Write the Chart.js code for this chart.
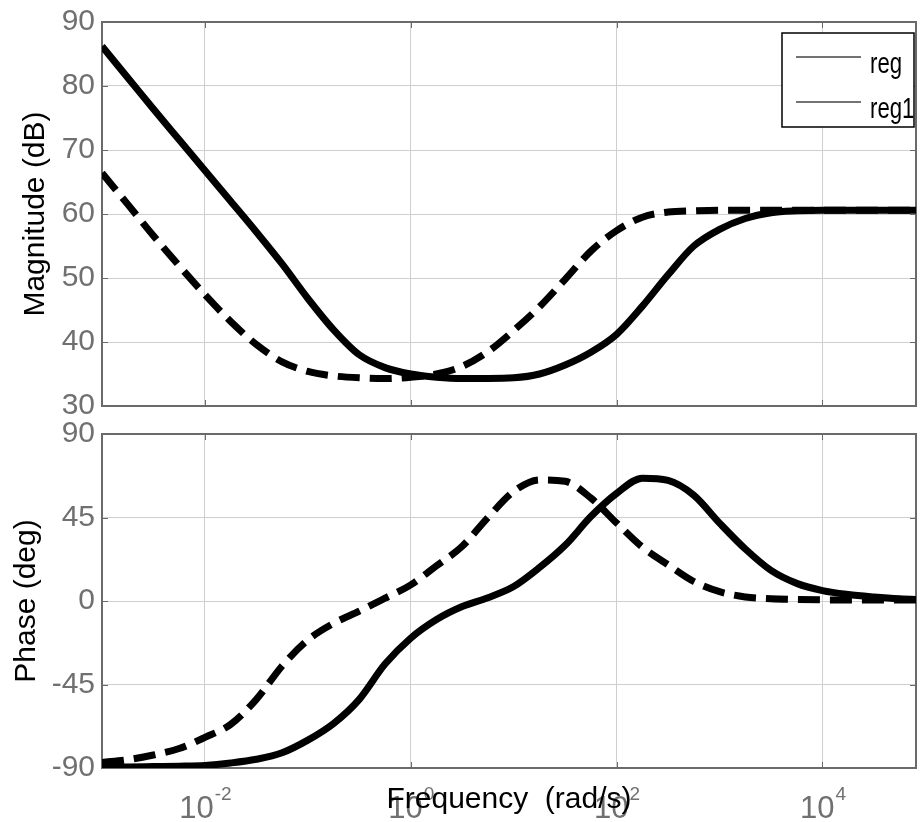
<!DOCTYPE html>
<html>
<head>
<meta charset="utf-8">
<script src="https://cdn.jsdelivr.net/npm/chart.js@4.4.0/dist/chart.umd.min.js"></script>
<style>
  html, body { margin: 0; padding: 0; background: #fff; }
  #wrap { position: relative; width: 922px; height: 822px; }
  canvas { position: absolute; left: 0; }
  #magChart { top: 0; }
  #phaseChart { top: 420px; }
</style>
</head>
<body>
<div id="wrap">
  <canvas id="magChart" width="922" height="420"></canvas>
  <canvas id="phaseChart" width="922" height="402"></canvas>
</div>
<script>
// Bode plot of two regulators: reg (solid) and reg1 (dashed)

// --- Data ---
const freqs = [
  1e-3, 1.78e-3, 3.16e-3, 5.62e-3,
  1e-2, 1.78e-2, 3.16e-2, 5.62e-2,
  0.1, 0.178, 0.316, 0.562,
  1, 1.78, 3.16, 5.62,
  10, 17.8, 31.6, 56.2,
  100, 178, 316, 562,
  1e3, 1.78e3, 3.16e3, 5.62e3,
  1e4, 1.78e4, 3.16e4, 5.62e4,
  1e5
];
const seriesNames = ['reg', 'reg1'];

const magReg = [
  86.2, 81.3, 76.4, 71.6,
  66.8, 62.0, 57.2, 52.2,
  46.8, 41.9, 38.0, 36.0,
  35.0, 34.5, 34.3, 34.3,
  34.4, 35.0, 36.4, 38.4,
  41.2, 45.6, 50.5, 55.0,
  57.6, 59.3, 60.2, 60.5,
  60.6, 60.6, 60.6, 60.6,
  60.6
];
const magReg1 = [
  66.4, 61.5, 56.6, 51.9,
  47.4, 43.2, 39.6, 36.9,
  35.4, 34.7, 34.4, 34.3,
  34.5, 35.0, 36.2, 38.5,
  41.8, 45.5, 49.8, 54.2,
  57.4, 59.5, 60.3, 60.5,
  60.6, 60.6, 60.6, 60.6,
  60.6, 60.6, 60.6, 60.6,
  60.6
];
const phaseReg = [
  -89.5, -89.4, -89.2, -89.0,
  -88.6, -87.3, -85.3, -81.8,
  -75.0, -66.0, -53.0, -34.0,
  -20.0, -10.0, -3.0, 1.8,
  7.8, 18.0, 30.0, 45.5,
  58.0, 66.2, 65.0, 57.0,
  42.0, 28.0, 16.5, 9.5,
  5.6, 3.5, 2.2, 1.2,
  0.6
];
const phaseReg1 = [
  -87.0, -85.5, -83.0, -79.5,
  -73.5, -66.5, -53.0, -35.0,
  -21.0, -12.0, -5.5, 1.5,
  8.7, 19.0, 29.5, 45.0,
  59.0, 65.3, 64.5, 55.5,
  42.0, 29.0, 19.5, 10.5,
  5.0, 2.2, 1.2, 0.8,
  0.6, 0.5, 0.5, 0.5,
  0.5
];

const freqTicks = [1e-2, 1, 1e2, 1e4];
const freqTickExps = ['-2', '0', '2', '4'];
const magRange = [30, 90];
const phaseRange = [-90, 90];

const TICK_GRAY = '#707070';
const FONT = '"Liberation Sans", Arial, sans-serif';

// frame box + small inward tick marks (matlab style)
const framePlugin = {
  id: 'frame',
  beforeDatasetsDraw(chart) {
    const { ctx, chartArea: a, scales } = chart;
    ctx.save();
    ctx.strokeStyle = '#6a6a6a';
    ctx.lineWidth = 1;
    ctx.beginPath();
    scales.x.ticks.forEach(t => {
      const px = Math.round(scales.x.getPixelForValue(t.value)) + 0.5;
      ctx.moveTo(px, a.top); ctx.lineTo(px, a.top + 6);
      ctx.moveTo(px, a.bottom); ctx.lineTo(px, a.bottom - 6);
    });
    scales.y.ticks.forEach(t => {
      const py = Math.round(scales.y.getPixelForValue(t.value)) + 0.5;
      ctx.moveTo(a.left, py); ctx.lineTo(a.left + 6, py);
      ctx.moveTo(a.right, py); ctx.lineTo(a.right - 6, py);
    });
    ctx.stroke();
    ctx.lineWidth = 2;
    ctx.strokeRect(a.left, a.top, a.right - a.left, a.bottom - a.top);
    ctx.restore();
  }
};

// legend box in the top right corner of the magnitude plot
const boxLegend = {
  id: 'boxLegend',
  afterDraw(chart) {
    const { ctx, chartArea: a } = chart;
    const x0 = a.right - 134, y0 = a.top + 11, w = 132, h = 94;
    ctx.save();
    ctx.fillStyle = '#fff';
    ctx.fillRect(x0, y0, w, h);
    ctx.strokeStyle = '#000';
    ctx.lineWidth = 1.5;
    ctx.strokeRect(x0, y0, w, h);
    chart.data.datasets.forEach((ds, i) => {
      const ly = y0 + 24 + i * 45;
      ctx.strokeStyle = '#444';
      ctx.lineWidth = 1.5;
      ctx.beginPath();
      ctx.moveTo(x0 + 14, ly);
      ctx.lineTo(x0 + 79, ly);
      ctx.stroke();
      // narrow lettering like the original legend
      ctx.save();
      ctx.translate(x0 + 88, ly + 16);
      ctx.scale(0.74, 1);
      ctx.font = '30px ' + FONT;
      ctx.fillStyle = '#000';
      ctx.textBaseline = 'alphabetic';
      ctx.fillText(ds.label, 0, 0);
      ctx.restore();
    });
    ctx.restore();
  }
};

// decade tick labels 10^n under the phase plot
const decadeLabels = {
  id: 'decadeLabels',
  beforeDraw(chart) {
    const { ctx, scales } = chart;
    const base = chart.height - 4;
    ctx.save();
    ctx.fillStyle = TICK_GRAY;
    ctx.textBaseline = 'alphabetic';
    freqTicks.forEach((v, i) => {
      const px = scales.x.getPixelForValue(v);
      ctx.font = '31px ' + FONT;
      const w1 = ctx.measureText('10').width;
      ctx.font = '19px ' + FONT;
      const w2 = ctx.measureText(freqTickExps[i]).width;
      const start = px - (w1 + w2) / 2;
      ctx.font = '31px ' + FONT;
      ctx.fillText('10', start, base);
      ctx.font = '19px ' + FONT;
      ctx.fillText(freqTickExps[i], start + w1 + 1, base - 18);
    });
    ctx.restore();
  }
};

function lineSet(label, xs, ys, dashed) {
  return {
    label: label,
    data: xs.map((f, i) => ({ x: f, y: ys[i] })),
    borderColor: '#000',
    borderWidth: 7,
    borderDash: dashed ? [22, 10] : [],
    pointRadius: 0,
    cubicInterpolationMode: 'monotone',
    fill: false
  };
}

function axes(yRange, yStep, yTitle, yTitlePad, xHeight, xTitle) {
  return {
    x: {
      type: 'logarithmic',
      min: 1e-3,
      max: 8.1e4,
      afterBuildTicks: ax => { ax.ticks = freqTicks.map(v => ({ value: v })); },
      afterFit: ax => { ax.height = xHeight; ax.paddingLeft = 0; ax.paddingRight = 0; },
      ticks: { display: false },
      grid: { color: '#cfcfcf', lineWidth: 1, drawTicks: false },
      border: { display: false },
      title: xTitle ? {
        display: true,
        text: xTitle,
        color: '#000',
        font: { family: FONT, size: 30 },
        padding: { top: 0, bottom: 4 }
      } : { display: false }
    },
    y: {
      min: yRange[0],
      max: yRange[1],
      afterFit: ax => { ax.width = 102; ax.paddingTop = 0; ax.paddingBottom = 0; },
      ticks: { stepSize: yStep, color: TICK_GRAY, padding: 7, font: { family: FONT, size: 30 } },
      grid: { color: '#cfcfcf', lineWidth: 1, drawTicks: false },
      border: { display: false },
      title: {
        display: true,
        text: yTitle,
        color: '#000',
        font: { family: FONT, size: 30 },
        padding: { top: yTitlePad, bottom: 0 }
      }
    }
  };
}

// --- Magnitude ---
new Chart(document.getElementById('magChart'), {
  type: 'line',
  data: {
    datasets: [
      lineSet(seriesNames[0], freqs, magReg, false),
      lineSet(seriesNames[1], freqs, magReg1, true)
    ]
  },
  options: {
    responsive: false,
    animation: false,
    layout: { padding: { top: 22, right: 6, left: 0, bottom: 0 } },
    scales: axes(magRange, 10, 'Magnitude (dB)', 18, 14, null),
    plugins: { legend: { display: false }, tooltip: { enabled: false } }
  },
  plugins: [framePlugin, boxLegend]
});

// --- Phase ---
new Chart(document.getElementById('phaseChart'), {
  type: 'line',
  data: {
    datasets: [
      lineSet(seriesNames[0], freqs, phaseReg, false),
      lineSet(seriesNames[1], freqs, phaseReg1, true)
    ]
  },
  options: {
    responsive: false,
    animation: false,
    layout: { padding: { top: 14, right: 6, left: 0, bottom: 0 } },
    scales: axes(phaseRange, 45, 'Phase (deg)', 9, 54, 'Frequency  (rad/s)'),
    plugins: { legend: { display: false }, tooltip: { enabled: false } }
  },
  plugins: [framePlugin, decadeLabels]
});
</script>
</body>
</html>
